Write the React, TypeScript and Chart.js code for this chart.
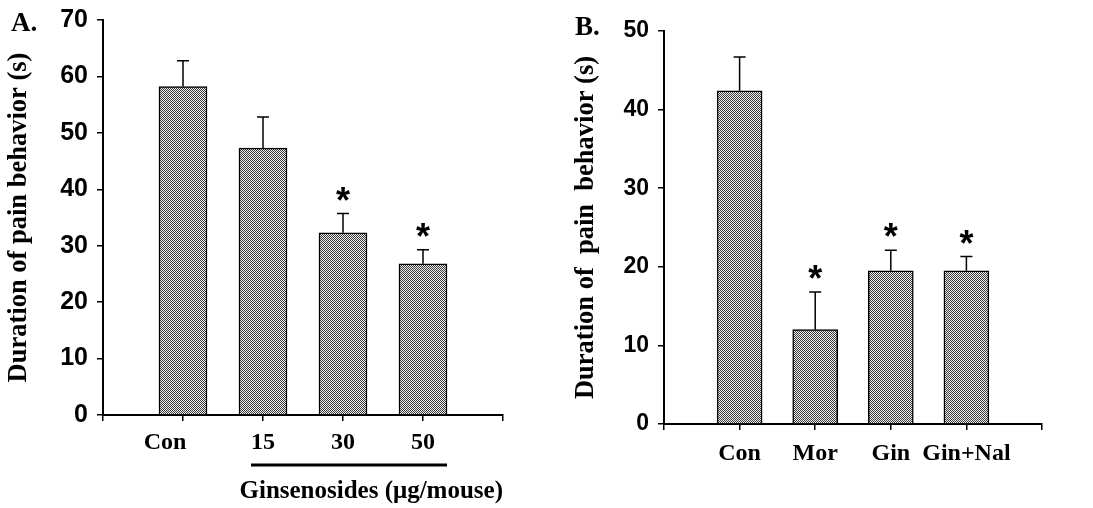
import React, { useEffect, useRef } from "react";
import { Chart, registerables } from "chart.js";

Chart.register(...registerables);

// ---- Data ----
const categoriesA = ["Con", "15", "30", "50"];
const valuesA = [58.2, 47.3, 32.3, 26.8];
const errorsA = [4.6, 5.5, 3.4, 2.5];
const sigA = [false, false, true, true];
const ticksA = { min: 0, max: 70, step: 10 };

const categoriesB = ["Con", "Mor", "Gin", "Gin+Nal"];
const valuesB = [42.4, 12.0, 19.5, 19.5];
const errorsB = [4.3, 4.8, 2.6, 1.8];
const sigB = [false, true, true, true];
const ticksB = { min: 0, max: 50, step: 10 };

const yTitleA = "Duration of pain behavior (s)";
const yTitleB = "Duration of  pain  behavior (s)";
const xTitleA = "Ginsenosides (\u03bcg/mouse)";

const SERIF = "'Liberation Serif', 'Times New Roman', serif";
const SANS = "'Liberation Sans', Arial, sans-serif";

function makePattern(): CanvasPattern | string {
  const c = document.createElement("canvas");
  c.width = 2;
  c.height = 2;
  const g = c.getContext("2d");
  if (!g) return "#999";
  g.fillStyle = "#f0f0f0";
  g.fillRect(0, 0, 2, 2);
  g.fillStyle = "#3a3a3a";
  g.fillRect(0, 0, 1, 1);
  g.fillRect(1, 1, 1, 1);
  return g.createPattern(c, "repeat") || "#999";
}

const annotPlugin = {
  id: "annot",
  afterDraw(chart: any, _args: any, opts: any) {
    const { ctx } = chart;
    const x = chart.scales.x;
    const y = chart.scales.y;
    ctx.save();
    ctx.strokeStyle = "#000";
    ctx.fillStyle = "#000";
    ctx.lineWidth = 1.5;
    opts.values.forEach((v: number, i: number) => {
      const px = x.getPixelForValue(i + 1);
      const base = y.getPixelForValue(v);
      const top = y.getPixelForValue(v + opts.errors[i]);
      ctx.beginPath();
      ctx.moveTo(px, base);
      ctx.lineTo(px, top);
      ctx.moveTo(px - 6, top);
      ctx.lineTo(px + 6, top);
      ctx.stroke();
      if (opts.sig[i]) {
        ctx.font = `bold 36px ${SANS}`;
        ctx.textAlign = "center";
        ctx.textBaseline = "alphabetic";
        ctx.fillText("*", px, top - 1);
      }
    });
    // panel label
    ctx.font = `bold ${opts.labelSize}px ${SERIF}`;
    ctx.textAlign = "left";
    ctx.textBaseline = "alphabetic";
    ctx.fillText(opts.label, opts.labelX, opts.labelY);
    // group underline
    if (opts.underline) {
      const x1 = x.getPixelForValue(2) - 12;
      const x2 = x.getPixelForValue(4) + 24;
      ctx.lineWidth = 3;
      ctx.beginPath();
      ctx.moveTo(x1, 465);
      ctx.lineTo(x2, 465);
      ctx.stroke();
    }
    ctx.restore();
  },
};

type PanelProps = {
  categories: string[];
  values: number[];
  errors: number[];
  sig: boolean[];
  ticks: { min: number; max: number; step: number };
  yTitle: string;
  xTitle?: string;
  width: number;
  left: number;
  padLeft: number;
  yWidth: number;
  xHeight: number;
  padTop: number;
  padRight: number;
  barThickness: number;
  tickSize: number;
  xTickPad: number;
  firstShift: number;
  label: string;
  labelSize: number;
  labelX: number;
  labelY: number;
  underline: boolean;
};

function Panel(p: PanelProps) {
  const ref = useRef<HTMLCanvasElement | null>(null);
  useEffect(() => {
    if (!ref.current) return;
    const labels = ["", ...p.categories, ""];
    const data = [null, ...p.values, null];
    const chart = new Chart(ref.current, {
      type: "bar",
      data: {
        labels,
        datasets: [
          {
            data: data as any,
            backgroundColor: makePattern() as any,
            borderColor: "#000",
            borderWidth: 1.5,
            barThickness: p.barThickness,
          },
        ],
      },
      options: {
        responsive: false,
        animation: false,
        layout: { padding: { top: p.padTop, right: p.padRight, left: p.padLeft, bottom: 0 } },
        plugins: {
          legend: { display: false },
          tooltip: { enabled: false },
          annot: {
            values: p.values,
            errors: p.errors,
            sig: p.sig,
            label: p.label,
            labelSize: p.labelSize,
            labelX: p.labelX,
            labelY: p.labelY,
            underline: p.underline,
          },
        } as any,
        scales: {
          x: {
            type: "category",
            offset: false,
            grid: {
              offset: false,
              drawOnChartArea: false,
              drawTicks: true,
              tickLength: 6,
              color: "#000",
              lineWidth: 1.5,
            },
            border: { display: true, color: "#000", width: 2 },
            ticks: {
              color: "#000",
              padding: p.xTickPad,
              maxRotation: 0,
              autoSkip: false,
              font: { family: SERIF, size: 24, weight: "bold" },
              callback: (_v: any, i: number) => {
                const t = labels[i];
                if (i === 1 && p.firstShift > 0) return t + "\u2002".repeat(p.firstShift);
                return t;
              },
            },
            title: p.xTitle
              ? {
                  display: true,
                  text: p.xTitle,
                  align: "end",
                  color: "#000",
                  font: { family: SERIF, size: 25, weight: "bold" },
                  padding: { top: 0, bottom: 1 },
                }
              : { display: false },
            afterFit: (s: any) => {
              s.height = p.xHeight;
              s.paddingLeft = 0;
              s.paddingRight = 0;
            },
          },
          y: {
            min: p.ticks.min,
            max: p.ticks.max,
            grid: {
              drawOnChartArea: false,
              drawTicks: true,
              tickLength: 6,
              color: "#000",
              lineWidth: 1.5,
            },
            border: { display: true, color: "#000", width: 2 },
            ticks: {
              stepSize: p.ticks.step,
              color: "#000",
              padding: 9,
              font: { family: SANS, size: p.tickSize, weight: "bold" },
            },
            title: {
              display: true,
              text: p.yTitle,
              color: "#000",
              font: { family: SERIF, size: 26.5, weight: "bold" },
              padding: { top: 3, bottom: 0 },
            },
            afterFit: (s: any) => {
              s.width = p.yWidth;
              s.paddingTop = 0;
              s.paddingBottom = 0;
            },
          },
        } as any,
      },
      plugins: [annotPlugin],
    });
    return () => chart.destroy();
  }, []);
  return (
    <canvas
      ref={ref}
      width={p.width}
      height={508}
      style={{ position: "absolute", left: p.left, top: 0, width: p.width, height: 508 }}
    />
  );
}

export default function App() {
  return (
    <div
      style={{
        position: "absolute",
        left: 0,
        top: 0,
        width: 1093,
        height: 508,
        background: "#fff",
        overflow: "hidden",
      }}
    >
      <Panel
        categories={categoriesA}
        values={valuesA}
        errors={errorsA}
        sig={sigA}
        ticks={ticksA}
        yTitle={yTitleA}
        xTitle={xTitleA}
        width={530}
        left={0}
        padLeft={0}
        yWidth={103}
        xHeight={93}
        padTop={20}
        padRight={27}
        barThickness={48}
        tickSize={25}
        xTickPad={7}
        firstShift={3}
        label="A."
        labelSize={27}
        labelX={11}
        labelY={31}
        underline={true}
      />
      <Panel
        categories={categoriesB}
        values={valuesB}
        errors={errorsB}
        sig={sigB}
        ticks={ticksB}
        yTitle={yTitleB}
        width={563}
        left={530}
        padLeft={37}
        yWidth={97}
        xHeight={84}
        padTop={31}
        padRight={51}
        barThickness={45}
        tickSize={23}
        xTickPad={9}
        firstShift={0}
        label="B."
        labelSize={27}
        labelX={45}
        labelY={35}
        underline={false}
      />
    </div>
  );
}
